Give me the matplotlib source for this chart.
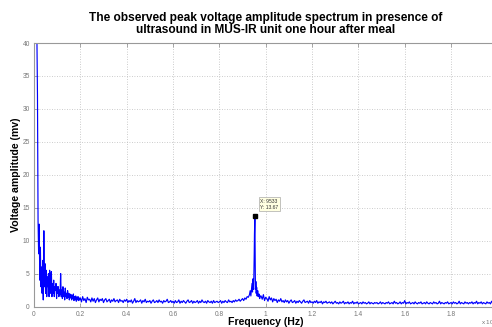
import numpy as np
import matplotlib
matplotlib.use("Agg")
import matplotlib.pyplot as plt
from matplotlib.ticker import FuncFormatter, FixedLocator

# ---------------- data (frequency in Hz, amplitude in mV) ----------------
freq_low = np.arange(0, 2000, 25)
amp_low = [46, 44, 45, 43, 44, 41, 32, 13, 8, 12.5, 4, 9, 3, 6, 2, 7, 1, 11.5, 3, 6.5,
           2, 5.5, 1.5, 4.5, 3, 5, 1.5, 5.5, 2, 4, 5.3, 1.5, 3.5, 2, 4, 1.5, 3, 2.5, 3.5, 1.2,
           3, 2, 3, 1.5, 2.5, 1.8, 5, 1.5, 2.5, 1.2, 3, 1.5, 2.2, 1, 2.8, 1.5, 2, 1.2, 2.4, 1.4,
           2.0, 1.0, 1.9, 1.3, 1.8, 1.0, 1.7, 1.2, 1.9, 0.9, 1.5, 1.1, 1.6, 0.8, 1.4, 1.0, 1.5, 0.9, 1.3, 1.0]

freq_mid = np.arange(2000, 9300, 50)
amp_mid = [1.3, 0.7, 1.5, 0.9, 1.2, 0.6, 1.4, 1.0, 1.1, 0.7, 1.3, 0.8, 1.2, 0.6, 1.0, 1.3, 0.7, 1.1, 0.9, 1.2,
           0.6, 1.0, 1.2, 0.7, 0.9, 1.1, 0.6, 1.0, 0.8, 1.2, 0.7, 0.9, 1.0, 0.6, 1.1, 0.8, 0.9, 0.6, 1.0, 0.8,
           1.1, 0.6, 0.9, 0.7, 1.0, 0.5, 0.8, 1.2, 0.6, 0.9, 0.7, 0.8, 1.0, 0.5, 0.9, 0.7, 1.1, 0.6, 0.8, 0.7,
           0.9, 0.5, 0.8, 1.0, 0.6, 0.7, 0.9, 0.6, 1.0, 0.7, 0.8, 0.5, 0.9, 0.7, 0.8, 1.1, 0.6, 0.7, 0.9, 0.6,
           0.8, 0.5, 0.9, 0.6, 0.7, 1.0, 0.5, 0.8, 0.6, 0.9, 0.7, 0.5, 0.8, 1.0, 0.6, 0.7, 0.9, 0.5, 0.8, 0.6,
           0.7, 0.9, 0.5, 0.8, 0.6, 1.0, 0.7, 0.6, 0.8, 0.5, 0.9, 0.7, 0.6, 0.8, 0.5, 0.9, 0.6, 0.7, 0.8, 0.6,
           0.7, 0.9, 0.5, 0.8, 0.6, 0.9, 0.7, 0.6, 1.0, 0.7, 0.8, 0.6, 0.9, 0.7, 1.0, 0.8, 0.9, 1.1, 0.8, 1.0,
           1.2, 0.9, 1.3, 1.1, 1.5, 1.4]

freq_peak = [9300, 9330, 9360, 9390, 9410, 9430, 9450, 9465, 9480, 9495, 9505, 9515, 9525, 9533,
             9542, 9552, 9562, 9575, 9590, 9610, 9630, 9655, 9680, 9710, 9740, 9770]
amp_peak = [1.8, 2.4, 1.6, 2.8, 3.5, 2.2, 4.2, 3.0, 2.6, 5.5, 8.0, 11.0, 12.5, 13.67,
            9.0, 4.5, 2.6, 3.8, 2.0, 2.9, 1.6, 2.4, 1.5, 1.9, 1.2, 1.6]

freq_high = np.arange(9800, 20050, 50)
amp_high = [1.6, 1.1, 1.8, 0.9, 1.4, 1.2, 0.8, 1.5, 1.0, 1.3, 0.7, 1.2, 0.9, 1.1, 0.6, 1.0, 0.8, 1.2, 0.7, 0.9,
            0.6, 1.0, 0.7, 0.9, 0.5, 0.8, 1.0, 0.6, 0.7, 0.9, 0.5, 0.8, 0.6, 0.9, 0.7, 0.5, 0.8, 1.0, 0.6, 0.7,
            0.8, 0.5, 0.9, 0.6, 0.7, 0.5, 0.8, 0.6, 0.9, 0.5, 0.7, 0.6, 0.8, 0.4, 0.7, 0.6, 0.8, 0.5, 0.6, 0.7,
            0.5, 0.7, 0.4, 0.6, 0.8, 0.5, 0.6, 0.4, 0.7, 0.5, 0.6, 0.8, 0.4, 0.6, 0.5, 0.7, 0.4, 0.6, 0.5, 0.8,
            0.4, 0.6, 0.5, 0.7, 0.4, 0.5, 0.6, 0.4, 0.7, 0.5, 0.6, 0.4, 0.5, 0.7, 0.4, 0.6, 0.5, 0.4, 0.6, 0.5,
            0.6, 0.4, 0.5, 0.7, 0.4, 0.6, 0.5, 0.4, 0.6, 0.5, 0.7, 0.4, 0.5, 0.6, 0.4, 0.8, 0.5, 0.6, 0.4, 0.5,
            0.7, 0.4, 0.6, 0.5, 0.9, 0.4, 0.6, 0.5, 0.7, 0.4, 0.5, 0.6, 0.4, 0.7, 0.5, 0.4, 0.6, 0.5, 0.7, 0.4,
            0.5, 0.6, 0.4, 0.7, 0.5, 0.4, 0.6, 0.5, 0.4, 0.7, 0.5, 0.6, 0.4, 0.5, 0.8, 0.4, 0.6, 0.5, 0.4, 0.6,
            0.5, 0.7, 0.4, 0.5, 0.6, 0.4, 0.7, 0.5, 0.6, 0.4, 0.5, 0.8, 0.4, 0.6, 0.5, 0.4, 0.7, 0.5, 0.6, 0.4,
            0.6, 0.5, 0.7, 0.4, 0.6, 0.5, 0.8, 0.4, 0.6, 0.5, 0.7, 0.4, 0.6, 0.5, 0.4, 0.7, 0.5, 0.6, 0.4, 0.8,
            0.5, 0.6, 0.4, 0.7, 0.5]

peak_x = 9533
peak_y = 13.67

x_ticks = [0, 2000, 4000, 6000, 8000, 10000, 12000, 14000, 16000, 18000]
y_ticks = [0, 5, 10, 15, 20, 25, 30, 35, 40]

title = "The observed peak voltage amplitude spectrum in presence of\nultrasound in MUS-IR unit one hour after meal"
xlabel = "Frequency (Hz)"
ylabel = "Voltage amplitude (mv)"

freq = np.concatenate([freq_low, freq_mid, freq_peak, freq_high])
amp = np.concatenate([amp_low, amp_mid, amp_peak, amp_high])

# ---------------- figure ----------------
plt.rcParams['font.family'] = ['Liberation Sans', 'DejaVu Sans']
fig = plt.figure(figsize=(4.92, 3.27), dpi=100)
fig.patch.set_facecolor('white')
ax = fig.add_axes([34 / 492, 20.5 / 327, 463.4 / 492, 263.5 / 327])

ax.plot(freq, amp, color='#0000ff', lw=0.85)
ax.plot([peak_x], [peak_y], marker='s', ms=3.2, color='black', ls='none')

ax.set_xlim(0, 20000)
ax.set_ylim(0, 40)
ax.xaxis.set_major_locator(FixedLocator(x_ticks))
ax.yaxis.set_major_locator(FixedLocator(y_ticks))
ax.xaxis.set_major_formatter(FuncFormatter(lambda v, p: "0" if v == 0 else f"{v/1e4:g}"))
ax.tick_params(direction='in', length=3, width=0.5, colors='#888888', labelsize=4.8,
               labelcolor='#777777', pad=3, top=True, right=True)
ax.grid(True, ls=(0, (1, 2)), color='#bbbbbb', lw=0.6)
for s in ax.spines.values():
    s.set_color('#999999')
    s.set_linewidth(0.8)

ax.set_title(title, fontsize=8.6, fontweight='bold', pad=7, linespacing=1.0)
ax.set_xlabel(xlabel, fontsize=7.6, fontweight='bold', labelpad=-0.5)
ax.set_ylabel(ylabel, fontsize=7.6, fontweight='bold')
ax.yaxis.set_label_coords(-0.027, 0.5)

# data tip
ax.annotate(f"X: {peak_x}\nY: {peak_y}", xy=(peak_x, peak_y), xytext=(4, 5),
            textcoords='offset points', fontsize=3.6, color='#333333', va='bottom', ha='left',
            linespacing=1.2,
            bbox=dict(boxstyle='square,pad=0.35', fc='#ffffe1', ec='#aaaaaa', lw=0.5))

fig.text(481 / 492, 1 - 322 / 327, r"x 10$^{4}$", fontsize=4.5, color='#777777', va='center', ha='left')

fig.savefig("out.png", dpi=100)
